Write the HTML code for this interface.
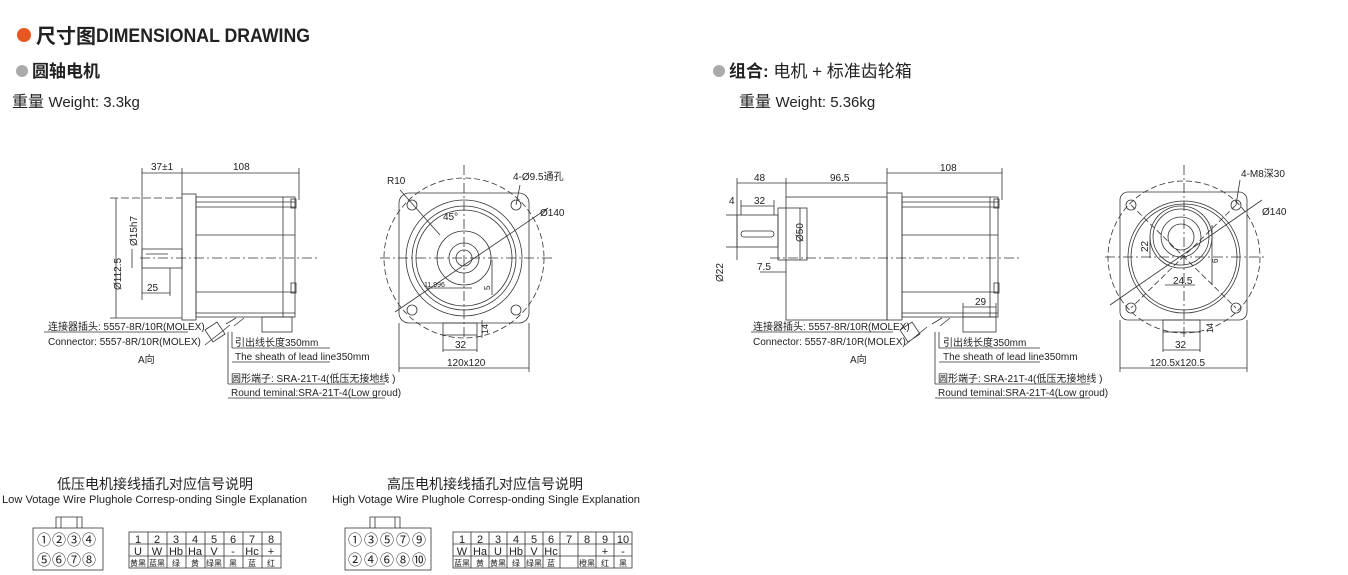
<!DOCTYPE html>
<html><head><meta charset="utf-8">
<style>
html,body{margin:0;padding:0;background:#fff;}
svg{display:block;}
text{font-family:"Liberation Sans Narrow","Liberation Sans","Noto Sans CJK SC",sans-serif;fill:#222;}
.h{font-family:"Liberation Sans","Noto Sans CJK SC",sans-serif;}
</style></head><body>
<svg width="1348" height="575" viewBox="0 0 1348 575" xmlns="http://www.w3.org/2000/svg">
<!-- headers -->
<circle cx="24" cy="35" r="7" fill="#e8561f"/>
<text x="36" y="43" class="h" font-size="20" font-weight="bold" fill="#111">尺寸图</text>
<text x="96" y="42" font-size="19" font-weight="bold" textLength="214" lengthAdjust="spacingAndGlyphs">DIMENSIONAL DRAWING</text>
<circle cx="22" cy="71" r="6" fill="#aaa"/>
<text x="32" y="77" class="h" font-size="17" font-weight="bold">圆轴电机</text>
<text x="12" y="107" class="h" font-size="16" fill="#444">重量 <tspan font-size="15">Weight: 3.3kg</tspan></text>
<circle cx="719" cy="71" r="6" fill="#aaa"/>
<text x="729" y="77" class="h" font-size="17"><tspan font-weight="bold">组合:</tspan> 电机 + 标准齿轮箱</text>
<text x="739" y="107" class="h" font-size="16" fill="#444">重量 <tspan font-size="15">Weight: 5.36kg</tspan></text>

<g stroke="#333" stroke-width="0.8" fill="none">
<!-- LEFT SIDE VIEW -->
<line x1="142" y1="173" x2="299" y2="173"/>
<line x1="142" y1="168" x2="142" y2="300"/>
<line x1="182" y1="168" x2="182" y2="194"/>
<line x1="299" y1="168" x2="299" y2="200"/>
<rect x="182" y="194" width="14" height="126"/>
<rect x="196" y="197" width="99" height="120"/>
<line x1="196" y1="202" x2="295" y2="202"/><line x1="196" y1="207" x2="295" y2="207"/>
<line x1="196" y1="235" x2="295" y2="235"/><line x1="196" y1="292" x2="295" y2="292"/>
<line x1="196" y1="313" x2="295" y2="313"/><line x1="283" y1="197" x2="283" y2="317"/>
<rect x="291" y="199" width="5" height="9"/><rect x="291" y="283" width="5" height="10"/>
<rect x="142" y="249" width="40" height="19"/>
<line x1="146" y1="254" x2="168" y2="254"/>
<line x1="116" y1="198" x2="116" y2="318"/>
<line x1="110" y1="198" x2="182" y2="198" stroke-dasharray="8 3"/>
<line x1="110" y1="318" x2="182" y2="318"/>
<line x1="132" y1="249" x2="132" y2="268"/>
<line x1="142" y1="293" x2="170" y2="293"/><line x1="170" y1="268" x2="170" y2="296"/>
<line x1="140" y1="258" x2="320" y2="258" stroke-dasharray="10 3 2 3"/>
<rect x="262" y="317" width="30" height="15"/>
<path d="M236 318 l-10 6 M244 318 l-10 8 M205 330 l12 -8 l8 12 l-12 8 z M205 345 l25 -20"/>
<path d="M44 332 H188 M232 348 H330 M232 362 H330 M228 384 H385 M228 398 H385 M232 332 V348 M228 332 L228 384"/>
<!-- LEFT FRONT VIEW -->
<rect x="399" y="193" width="130" height="130" rx="10"/>
<circle cx="464" cy="258" r="80" stroke-dasharray="6 3"/>
<circle cx="464" cy="258" r="58"/><circle cx="464" cy="258" r="52"/><circle cx="464" cy="258" r="48"/>
<circle cx="464" cy="258" r="27"/><circle cx="464" cy="258" r="15"/><circle cx="464" cy="258" r="8"/>
<circle cx="412" cy="205" r="5"/><circle cx="516" cy="205" r="5"/><circle cx="412" cy="310" r="5"/><circle cx="516" cy="310" r="5"/>
<line x1="380" y1="258" x2="555" y2="258" stroke-dasharray="10 3 2 3"/>
<line x1="464" y1="165" x2="464" y2="340" stroke-dasharray="10 3 2 3"/>
<line x1="395" y1="312" x2="548" y2="208"/>
<line x1="400" y1="190" x2="440" y2="235"/>
<line x1="520" y1="185" x2="516" y2="205"/>
<rect x="443" y="323" width="34" height="12"/>
<line x1="443" y1="335" x2="443" y2="352"/><line x1="477" y1="335" x2="477" y2="352"/>
<line x1="443" y1="350" x2="477" y2="350"/>
<line x1="399" y1="323" x2="399" y2="372"/><line x1="529" y1="323" x2="529" y2="372"/>
<line x1="399" y1="368" x2="529" y2="368"/>
<line x1="426" y1="288" x2="472" y2="288"/><line x1="492" y1="260" x2="492" y2="295"/>
<line x1="482" y1="320" x2="482" y2="338"/>
<!-- RIGHT SIDE VIEW -->
<line x1="737" y1="183" x2="887" y2="183"/>
<line x1="887" y1="173" x2="1002" y2="173"/>
<line x1="737" y1="178" x2="737" y2="260"/><line x1="786" y1="178" x2="786" y2="197"/>
<line x1="887" y1="168" x2="887" y2="193"/><line x1="1002" y1="168" x2="1002" y2="200"/>
<rect x="786" y="197" width="101" height="123"/>
<rect x="887" y="193" width="15" height="127"/>
<rect x="902" y="197" width="96" height="120"/>
<line x1="902" y1="202" x2="998" y2="202"/><line x1="902" y1="207" x2="998" y2="207"/>
<line x1="902" y1="235" x2="998" y2="235"/><line x1="902" y1="292" x2="998" y2="292"/>
<line x1="902" y1="313" x2="998" y2="313"/><line x1="990" y1="197" x2="990" y2="317"/>
<rect x="994" y="199" width="5" height="9"/><rect x="994" y="283" width="5" height="10"/>
<rect x="778" y="208" width="29" height="52"/>
<rect x="737" y="215" width="41" height="32"/>
<rect x="741" y="231" width="33" height="6" rx="3"/>
<line x1="741" y1="206" x2="774" y2="206"/><line x1="741" y1="200" x2="741" y2="215"/><line x1="774" y1="200" x2="774" y2="215"/>
<line x1="726" y1="215" x2="737" y2="215"/><line x1="726" y1="247" x2="737" y2="247"/>
<line x1="800" y1="208" x2="800" y2="260"/>
<line x1="760" y1="272" x2="786" y2="272"/>
<line x1="770" y1="258" x2="1020" y2="258" stroke-dasharray="10 3 2 3"/>
<rect x="963" y="317" width="33" height="15"/>
<line x1="963" y1="307" x2="996" y2="307"/><line x1="963" y1="303" x2="963" y2="317"/><line x1="996" y1="303" x2="996" y2="317"/>
<path d="M942 318 l-10 6 M950 318 l-10 8 M900 330 l12 -8 l8 12 l-12 8 z M905 345 l22 -18"/>
<path d="M751 332 H893 M939 348 H1040 M939 362 H1040 M935 384 H1090 M935 398 H1090 M939 332 V348 M935 332 L935 384"/>
<!-- RIGHT FRONT VIEW -->
<rect x="1120" y="192" width="127" height="128" rx="8"/>
<circle cx="1184" cy="257" r="76" stroke-dasharray="6 3"/>
<circle cx="1184" cy="257" r="56"/><circle cx="1184" cy="257" r="53"/>
<circle cx="1181" cy="237" r="31"/><circle cx="1181" cy="237" r="28"/><circle cx="1181" cy="237" r="20"/><circle cx="1181" cy="237" r="13"/>
<circle cx="1131" cy="205" r="5"/><circle cx="1236" cy="205" r="5"/><circle cx="1131" cy="308" r="5"/><circle cx="1236" cy="308" r="5"/>
<line x1="1105" y1="257" x2="1265" y2="257" stroke-dasharray="10 3 2 3"/>
<line x1="1184" y1="165" x2="1184" y2="340" stroke-dasharray="10 3 2 3"/>
<line x1="1131" y1="205" x2="1236" y2="308" stroke-dasharray="6 3"/>
<line x1="1236" y1="205" x2="1131" y2="308" stroke-dasharray="6 3"/>
<line x1="1110" y1="305" x2="1262" y2="200"/>
<line x1="1150" y1="237" x2="1150" y2="258"/><line x1="1212" y1="225" x2="1212" y2="285"/>
<line x1="1165" y1="285" x2="1195" y2="285"/>
<rect x="1163" y="320" width="37" height="12"/>
<line x1="1163" y1="332" x2="1163" y2="352"/><line x1="1200" y1="332" x2="1200" y2="352"/>
<line x1="1163" y1="350" x2="1200" y2="350"/>
<line x1="1120" y1="320" x2="1120" y2="372"/><line x1="1247" y1="320" x2="1247" y2="372"/>
<line x1="1120" y1="368" x2="1247" y2="368"/>
<line x1="1240" y1="180" x2="1236" y2="205"/>
</g>

<!-- drawing labels -->
<g font-size="10">
<text x="151" y="170">37±1</text><text x="233" y="170">108</text>
<text transform="translate(121,290) rotate(-90)">Ø112.5</text>
<text transform="translate(137,246) rotate(-90)">Ø15h7</text>
<text x="147" y="291">25</text>
<text x="48" y="330">连接器插头: 5557-8R/10R(MOLEX)</text>
<text x="48" y="345">Connector: 5557-8R/10R(MOLEX)</text>
<text x="138" y="363">A向</text>
<text x="235" y="346">引出线长度350mm</text>
<text x="235" y="360">The sheath of lead line350mm</text>
<text x="231" y="382">圆形端子: SRA-21T-4(低压无接地线 )</text>
<text x="231" y="396">Round teminal:SRA-21T-4(Low groud)</text>
<text x="387" y="184">R10</text><text x="513" y="180">4-Ø9.5通孔</text>
<text x="540" y="216">Ø140</text><text x="443" y="220">45°</text>
<text x="424" y="287" font-size="7">11.996</text>
<text transform="translate(490,290) rotate(-90)" font-size="8">5</text>
<text transform="translate(488,334) rotate(-90)" font-size="9">14</text>
<text x="455" y="348">32</text><text x="447" y="366">120x120</text>

<text x="754" y="181">48</text><text x="830" y="181">96.5</text><text x="940" y="171">108</text>
<text x="729" y="204">4</text><text x="754" y="204">32</text>
<text transform="translate(723,282) rotate(-90)">Ø22</text>
<text transform="translate(803,242) rotate(-90)">Ø50</text>
<text x="757" y="270">7.5</text>
<text x="975" y="305">29</text>
<text x="753" y="330">连接器插头: 5557-8R/10R(MOLEX)</text>
<text x="753" y="345">Connector: 5557-8R/10R(MOLEX)</text>
<text x="850" y="363">A向</text>
<text x="943" y="346">引出线长度350mm</text>
<text x="943" y="360">The sheath of lead line350mm</text>
<text x="938" y="382">圆形端子: SRA-21T-4(低压无接地线 )</text>
<text x="938" y="396">Round teminal:SRA-21T-4(Low groud)</text>
<text x="1241" y="177">4-M8深30</text><text x="1262" y="215">Ø140</text>
<text transform="translate(1148,252) rotate(-90)">22</text>
<text x="1173" y="284">24.5</text>
<text transform="translate(1218,263) rotate(-90)" font-size="8">6</text>
<text transform="translate(1213,333) rotate(-90)" font-size="9">14</text>
<text x="1175" y="348">32</text><text x="1150" y="366">120.5x120.5</text>
</g>

<!-- bottom section -->
<text x="155" y="489" text-anchor="middle" class="h" font-size="14" fill="#333">低压电机接线插孔对应信号说明</text>
<text x="2" y="503" font-size="11" textLength="305" lengthAdjust="spacingAndGlyphs" class="h">Low Votage Wire Plughole Corresp-onding Single Explanation</text>
<text x="485" y="489" text-anchor="middle" class="h" font-size="14" fill="#333">高压电机接线插孔对应信号说明</text>
<text x="332" y="503" font-size="11" textLength="308" lengthAdjust="spacingAndGlyphs" class="h">High Votage Wire Plughole Corresp-onding Single Explanation</text>

<g stroke="#333" stroke-width="0.8" fill="none">
<rect x="33" y="528" width="70" height="42"/><path d="M56 528 V517 H82 V528 M61 517 V528 M77 517 V528"/>
<rect x="345" y="528" width="86" height="42"/><path d="M370 528 V517 H400 V528 M375 517 V528 M395 517 V528"/>
<rect x="129" y="532" width="152" height="36"/>
<line x1="129" y1="544" x2="281" y2="544"/><line x1="129" y1="556" x2="281" y2="556"/>
<rect x="453" y="532" width="179" height="36"/>
<line x1="453" y1="544" x2="632" y2="544"/><line x1="453" y1="556" x2="632" y2="556"/>
</g>
<g stroke="#333" stroke-width="0.8">
<line x1="148" y1="532" x2="148" y2="568"/><line x1="167" y1="532" x2="167" y2="568"/><line x1="186" y1="532" x2="186" y2="568"/><line x1="205" y1="532" x2="205" y2="568"/><line x1="224" y1="532" x2="224" y2="568"/><line x1="243" y1="532" x2="243" y2="568"/><line x1="262" y1="532" x2="262" y2="568"/>
<line x1="471" y1="532" x2="471" y2="568"/><line x1="489" y1="532" x2="489" y2="568"/><line x1="507" y1="532" x2="507" y2="568"/><line x1="525" y1="532" x2="525" y2="568"/><line x1="543" y1="532" x2="543" y2="568"/><line x1="560" y1="532" x2="560" y2="568"/><line x1="578" y1="532" x2="578" y2="568"/><line x1="596" y1="532" x2="596" y2="568"/><line x1="614" y1="532" x2="614" y2="568"/>
</g>
<g font-size="14" class="h">
<text x="37" y="545" class="h" letter-spacing="1">①②③④</text>
<text x="37" y="565" class="h" letter-spacing="1">⑤⑥⑦⑧</text>
<text x="348" y="545" class="h" letter-spacing="2">①③⑤⑦⑨</text>
<text x="348" y="565" class="h" letter-spacing="2">②④⑥⑧⑩</text>
</g>
<g font-size="11" text-anchor="middle" class="h">
<text x="138" y="543">1</text><text x="157" y="543">2</text><text x="176" y="543">3</text><text x="195" y="543">4</text><text x="214" y="543">5</text><text x="233" y="543">6</text><text x="252" y="543">7</text><text x="271" y="543">8</text>
<text x="138" y="555">U</text><text x="157" y="555">W</text><text x="176" y="555">Hb</text><text x="195" y="555">Ha</text><text x="214" y="555">V</text><text x="233" y="555">-</text><text x="252" y="555">Hc</text><text x="271" y="555">+</text>
<text x="462" y="543">1</text><text x="480" y="543">2</text><text x="498" y="543">3</text><text x="516" y="543">4</text><text x="534" y="543">5</text><text x="551" y="543">6</text><text x="569" y="543">7</text><text x="587" y="543">8</text><text x="605" y="543">9</text><text x="623" y="543">10</text>
<text x="462" y="555">W</text><text x="480" y="555">Ha</text><text x="498" y="555">U</text><text x="516" y="555">Hb</text><text x="534" y="555">V</text><text x="551" y="555">Hc</text><text x="605" y="555">+</text><text x="623" y="555">-</text>
</g>
<g font-size="8" text-anchor="middle" class="h">
<text x="138" y="566">黄黑</text><text x="157" y="566">蓝黑</text><text x="176" y="566">绿</text><text x="195" y="566">黄</text><text x="214" y="566">绿黑</text><text x="233" y="566">黑</text><text x="252" y="566">蓝</text><text x="271" y="566">红</text>
<text x="462" y="566">蓝黑</text><text x="480" y="566">黄</text><text x="498" y="566">黄黑</text><text x="516" y="566">绿</text><text x="534" y="566">绿黑</text><text x="551" y="566">蓝</text><text x="587" y="566">橙黑</text><text x="605" y="566">红</text><text x="623" y="566">黑</text>
</g>
</svg>
</body></html>
